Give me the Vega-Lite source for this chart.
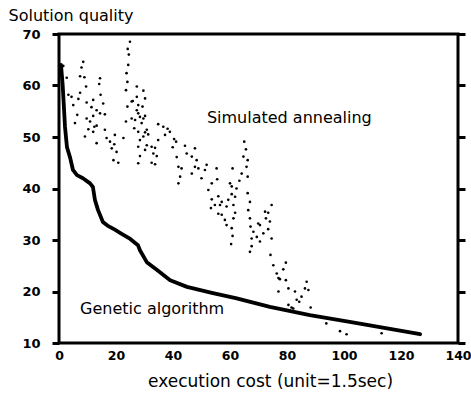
{
  "$schema": "https://vega.github.io/schema/vega-lite/v6.json",
  "width": 399,
  "height": 309,
  "autosize": {"type": "none"},
  "padding": {"left": 59, "top": 34, "right": 13, "bottom": 52},
  "background": "white",
  "config": {"view": {"stroke": "black", "strokeWidth": 3}, "font": "DejaVu Sans"},
  "datasets": {
    "sa": [
      {"cost":1.5,"quality":63.8},{"cost":2.7,"quality":61.5},{"cost":3.3,"quality":58.2},{"cost":4.4,"quality":57.8},{"cost":5,"quality":56.2},{"cost":5.6,"quality":52.7},{"cost":6.4,"quality":54.3},{"cost":6.8,"quality":57.4},{"cost":7.4,"quality":61.8},{"cost":7.4,"quality":58.6},{"cost":7.9,"quality":63.5},{"cost":8.5,"quality":64.6},{"cost":8.9,"quality":61.6},{"cost":9.5,"quality":59.8},{"cost":9.7,"quality":56.7},{"cost":9.7,"quality":53.6},{"cost":10.3,"quality":51.5},{"cost":9.1,"quality":50.1},{"cost":10.9,"quality":53},{"cost":11.4,"quality":55.8},{"cost":12,"quality":57.2},{"cost":12,"quality":54.1},{"cost":12.4,"quality":52},{"cost":12,"quality":51},{"cost":13.2,"quality":55.2},{"cost":13.2,"quality":52.2},{"cost":13.2,"quality":48.8},{"cost":14.1,"quality":60.3},{"cost":14.4,"quality":61.4},{"cost":14.6,"quality":58.2},{"cost":14.4,"quality":54.6},{"cost":15.5,"quality":56.5},{"cost":16.1,"quality":54.4},{"cost":16.1,"quality":51.4},{"cost":16.7,"quality":49.8},{"cost":17.9,"quality":49.1},{"cost":18.5,"quality":47.8},{"cost":19.4,"quality":48.6},{"cost":19.6,"quality":50.4},{"cost":20.2,"quality":47.1},{"cost":19.1,"quality":45.5},{"cost":20.8,"quality":45},{"cost":22.6,"quality":49.8},{"cost":23.5,"quality":53},{"cost":23.5,"quality":59.1},{"cost":23.7,"quality":62.4},{"cost":24,"quality":60.7},{"cost":24.3,"quality":64},{"cost":24.1,"quality":67.1},{"cost":24.9,"quality":68.5},{"cost":24.5,"quality":66},{"cost":24,"quality":55.9},{"cost":25.5,"quality":56.9},{"cost":25.5,"quality":53.6},{"cost":25.9,"quality":57},{"cost":26.4,"quality":51.7},{"cost":26.7,"quality":53.3},{"cost":27.3,"quality":59.8},{"cost":27.3,"quality":57.8},{"cost":27.3,"quality":55.2},{"cost":27.8,"quality":56.2},{"cost":27.8,"quality":54.6},{"cost":27.8,"quality":51},{"cost":27.8,"quality":48.1},{"cost":27.8,"quality":44.9},{"cost":28.4,"quality":53.9},{"cost":28.4,"quality":49.4},{"cost":28.4,"quality":46.3},{"cost":29,"quality":52.7},{"cost":29.6,"quality":59},{"cost":29.6,"quality":53.6},{"cost":29.6,"quality":50.1},{"cost":29.3,"quality":55.9},{"cost":30.2,"quality":57.5},{"cost":30.2,"quality":54.1},{"cost":30.2,"quality":50.9},{"cost":30.8,"quality":51.4},{"cost":30.8,"quality":48.4},{"cost":30.2,"quality":47.5},{"cost":31.3,"quality":50.5},{"cost":32.5,"quality":48.1},{"cost":33.1,"quality":46.8},{"cost":33.7,"quality":47.9},{"cost":34.3,"quality":46.3},{"cost":32.5,"quality":45},{"cost":33.7,"quality":44.7},{"cost":34.8,"quality":52.5},{"cost":34.8,"quality":49.4},{"cost":36.6,"quality":52},{"cost":37.2,"quality":50.4},{"cost":38.1,"quality":51.6},{"cost":38.9,"quality":51},{"cost":40.4,"quality":49.6},{"cost":41.1,"quality":49.1},{"cost":39.9,"quality":48},{"cost":41.3,"quality":46.1},{"cost":41.9,"quality":44.2},{"cost":43,"quality":43.9},{"cost":42.5,"quality":42.3},{"cost":41.9,"quality":41},{"cost":44.2,"quality":48.3},{"cost":44.8,"quality":46.8},{"cost":46.6,"quality":46.2},{"cost":47.7,"quality":47.8},{"cost":48.3,"quality":45.5},{"cost":47.7,"quality":44.2},{"cost":46.6,"quality":42.9},{"cost":48.9,"quality":43.9},{"cost":50,"quality":42},{"cost":51.2,"quality":43.6},{"cost":51.8,"quality":44.6},{"cost":52.4,"quality":39.7},{"cost":53.6,"quality":41},{"cost":53.6,"quality":37.9},{"cost":53.3,"quality":36.2},{"cost":54.7,"quality":36.8},{"cost":55.3,"quality":43.9},{"cost":55.5,"quality":41.8},{"cost":55.9,"quality":38.5},{"cost":55.9,"quality":35.1},{"cost":56.5,"quality":36.8},{"cost":57.1,"quality":37.4},{"cost":57.1,"quality":34.9},{"cost":58.2,"quality":33.9},{"cost":58.8,"quality":32.9},{"cost":58.8,"quality":36.5},{"cost":59.4,"quality":37.8},{"cost":60,"quality":41},{"cost":60.6,"quality":38.9},{"cost":60.6,"quality":40.4},{"cost":60.9,"quality":43.9},{"cost":60.6,"quality":32.3},{"cost":60.9,"quality":30.8},{"cost":60.4,"quality":29.2},{"cost":61.2,"quality":36.8},{"cost":61.2,"quality":34.2},{"cost":61.8,"quality":38.4},{"cost":61.8,"quality":35.3},{"cost":62.3,"quality":40},{"cost":63.3,"quality":41.5},{"cost":64.1,"quality":42.9},{"cost":65,"quality":49.1},{"cost":65.6,"quality":47.6},{"cost":64.7,"quality":46.2},{"cost":66.2,"quality":45.5},{"cost":65.8,"quality":44.2},{"cost":66.2,"quality":42.3},{"cost":66.2,"quality":39.1},{"cost":67,"quality":37.4},{"cost":66.4,"quality":35.8},{"cost":67,"quality":34.2},{"cost":67.2,"quality":32.6},{"cost":68.2,"quality":31.6},{"cost":67.6,"quality":30.3},{"cost":67.6,"quality":28.8},{"cost":67,"quality":27.7},{"cost":69.4,"quality":30.6},{"cost":70.5,"quality":29.7},{"cost":69.9,"quality":33.2},{"cost":70.5,"quality":32.9},{"cost":71.7,"quality":31.3},{"cost":72.3,"quality":35.5},{"cost":73.4,"quality":35.3},{"cost":72.6,"quality":34.2},{"cost":74,"quality":33.6},{"cost":73.4,"quality":32.1},{"cost":74.6,"quality":36.8},{"cost":74.6,"quality":30.3},{"cost":74.2,"quality":27.1},{"cost":75.2,"quality":25.1},{"cost":76.4,"quality":23.5},{"cost":77,"quality":22.6},{"cost":77.5,"quality":22.4},{"cost":78.7,"quality":24.3},{"cost":79.6,"quality":25.6},{"cost":79.6,"quality":22.2},{"cost":77,"quality":20},{"cost":80.5,"quality":20.6},{"cost":82.8,"quality":20},{"cost":83.4,"quality":18.4},{"cost":84.3,"quality":18},{"cost":85.1,"quality":19},{"cost":86.3,"quality":20.6},{"cost":86.9,"quality":21.9},{"cost":87.5,"quality":20.3},{"cost":88.3,"quality":16.9},{"cost":80.5,"quality":17.4},{"cost":81.6,"quality":16.9},{"cost":82.2,"quality":16.7},{"cost":93.8,"quality":13.8},{"cost":98.6,"quality":12.3},{"cost":100.9,"quality":11.7},{"cost":113.2,"quality":11.9}
    ],
    "ga": [
      {"cost":0.7,"quality":64},{"cost":1,"quality":62},{"cost":1.3,"quality":60},{"cost":1.6,"quality":57},{"cost":2.1,"quality":52},{"cost":2.8,"quality":48},{"cost":3.9,"quality":46},{"cost":4.9,"quality":43.6},{"cost":6.3,"quality":42.6},{"cost":8.4,"quality":42},{"cost":10.9,"quality":41},{"cost":11.9,"quality":40.3},{"cost":12.6,"quality":37.8},{"cost":13.7,"quality":35.8},{"cost":15.4,"quality":33.5},{"cost":17,"quality":32.8},{"cost":19.6,"quality":32},{"cost":21.4,"quality":31.4},{"cost":25,"quality":30.2},{"cost":27.7,"quality":29},{"cost":28.4,"quality":28},{"cost":30.8,"quality":25.7},{"cost":34.3,"quality":24.2},{"cost":39,"quality":22.2},{"cost":44.9,"quality":20.9},{"cost":54,"quality":19.7},{"cost":62,"quality":18.7},{"cost":74,"quality":17},{"cost":88,"quality":15.4},{"cost":102,"quality":14.1},{"cost":112.6,"quality":13.1},{"cost":126.7,"quality":11.7}
    ],
    "labels": [
      {"label": "Simulated annealing", "cost": 51.9, "quality": 53.7},
      {"label": "Genetic algorithm", "cost": 7.4, "quality": 16.6}
    ]
  },
  "layer": [
    {
      "data": {"name": "sa"},
      "mark": {"type": "circle", "color": "black", "size": 7, "opacity": 1},
      "encoding": {
        "x": {"field": "cost", "type": "quantitative",
          "scale": {"domain": [0, 140], "nice": false, "zero": false},
          "axis": {"values": [0,20,40,60,80,100,120,140], "title": "execution cost (unit=1.5sec)", "ticks": false, "domain": false, "grid": false,
            "labelFont": "DejaVu Sans", "labelFontSize": 12.5, "labelFontWeight": "bold", "labelColor": "black", "labelPadding": 6, "labelFlush": false, "labelOverlap": false,
            "titleFont": "DejaVu Sans", "titleFontSize": 17, "titleFontWeight": "normal", "titleColor": "black", "titlePadding": 12, "titleX": 211, "titleAnchor": "middle"}},
        "y": {"field": "quality", "type": "quantitative",
          "scale": {"domain": [10, 70], "nice": false, "zero": false},
          "axis": {"orient": "left", "values": [10,20,30,40,50,60,70], "title": "Solution quality", "titleAngle": 0, "titleX": -51, "titleY": -14, "titleAlign": "left", "titleBaseline": "alphabetic",
            "titleFont": "DejaVu Sans", "titleFontSize": 16, "titleFontWeight": "normal", "titleColor": "black",
            "labelFont": "DejaVu Sans", "labelFontSize": 13, "labelFontWeight": "bold", "labelColor": "black", "labelFlush": false, "labelOverlap": false,
            "tickColor": "black", "tickWidth": 3, "tickSize": 7, "labelPadding": 12, "domain": false, "grid": false}}
      }
    },
    {
      "data": {"name": "ga"},
      "mark": {"type": "line", "color": "black", "strokeWidth": 3.8, "strokeJoin": "round", "strokeCap": "round"},
      "encoding": {
        "x": {"field": "cost", "type": "quantitative", "scale": {"domain": [0, 140], "nice": false, "zero": false},
          "axis": {"values": [0,20,40,60,80,100,120,140], "title": "execution cost (unit=1.5sec)", "ticks": false, "domain": false, "grid": false,
            "labelFont": "DejaVu Sans", "labelFontSize": 12.5, "labelFontWeight": "bold", "labelColor": "black", "labelPadding": 6, "labelFlush": false, "labelOverlap": false,
            "titleFont": "DejaVu Sans", "titleFontSize": 17, "titleFontWeight": "normal", "titleColor": "black", "titlePadding": 12, "titleX": 211, "titleAnchor": "middle"}},
        "y": {"field": "quality", "type": "quantitative", "scale": {"domain": [10, 70], "nice": false, "zero": false},
          "axis": {"orient": "right", "values": [10,20,30,40,50,60,70], "labels": false, "title": null, "tickSize": 7, "tickWidth": 3, "tickColor": "black", "domain": false, "grid": false}}
      }
    },
    {
      "data": {"name": "labels"},
      "mark": {"type": "text", "align": "left", "baseline": "middle", "fontSize": 16, "font": "DejaVu Sans", "color": "black"},
      "encoding": {
        "x": {"field": "cost", "type": "quantitative", "scale": {"domain": [0, 140], "nice": false, "zero": false},
          "axis": {"values": [0,20,40,60,80,100,120,140], "title": "execution cost (unit=1.5sec)", "ticks": false, "domain": false, "grid": false,
            "labelFont": "DejaVu Sans", "labelFontSize": 12.5, "labelFontWeight": "bold", "labelColor": "black", "labelPadding": 6, "labelFlush": false, "labelOverlap": false,
            "titleFont": "DejaVu Sans", "titleFontSize": 17, "titleFontWeight": "normal", "titleColor": "black", "titlePadding": 12, "titleX": 211, "titleAnchor": "middle"}},
        "y": {"field": "quality", "type": "quantitative", "scale": {"domain": [10, 70], "nice": false, "zero": false}, "axis": null},
        "text": {"field": "label", "type": "nominal"}
      }
    }
  ],
  "resolve": {"axis": {"y": "independent"}}
}
